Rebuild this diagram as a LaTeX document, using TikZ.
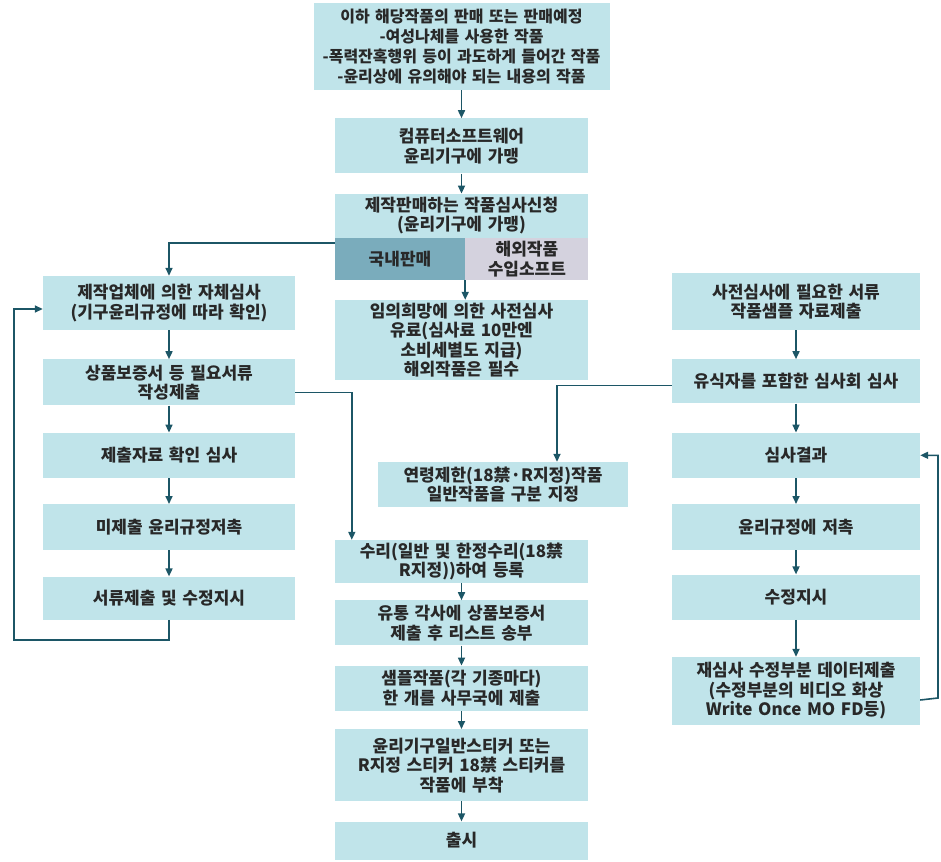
\documentclass[tikz,border=0pt]{standalone}
\usepackage{fontspec}
\setmainfont{Noto Sans CJK KR}
\usetikzlibrary{positioning, calc, arrows.meta}

\definecolor{boxcol}{RGB}{192,228,234}
\definecolor{darkcol}{RGB}{122,172,188}
\definecolor{greycol}{RGB}{212,210,222}
\definecolor{linecol}{RGB}{28,86,102}
\definecolor{textcol}{RGB}{40,40,40}

\begin{document}
\begin{tikzpicture}[x=1pt,y=-1pt,
  every node/.style={rectangle,fill=boxcol,text width=253pt,inner sep=0pt,align=center,
                     text=textcol,font=\fontsize{17}{19.5}\selectfont\bfseries},
  flow/.style={draw=linecol,line width=1.6pt,-{Triangle[length=8pt,width=7pt]}}]
\useasboundingbox (0,0) rectangle (941,861);
% middle column
  \node(top)[text width=296pt,minimum height=87pt,font=\fontsize{16}{20}\selectfont\bfseries] at (461.5,46.5)
    {이하 해당작품의 판매 또는 판매예정\\-여성나체를 사용한 작품\\-폭력잔혹행위 등이 과도하게 들어간 작품\\-윤리상에 유의해야 되는 내용의 작품};
  \node(member)[below=28pt of top,minimum height=55pt]{컴퓨터소프트웨어\\윤리기구에 가맹};
  \node(apply)[below=20pt of member,minimum height=44pt]{제작판매하는 작품심사신청\\(윤리기구에 가맹)};
  \node(domestic)[below right=0pt and 0pt of apply.south west,text width=130pt,minimum height=42pt,fill=darkcol]{국내판매};
  \node(foreign)[right=0pt of domestic,text width=123pt,minimum height=42pt,fill=greycol]{해외작품\\수입소프트};
  \node(prereview)[minimum height=80pt] at (461.5,340){임의희망에 의한 사전심사\\유료(심사료 10만엔\\소비세별도 지급)\\해외작품은 필수};
%
  \node(agelimit)[text width=250pt,minimum height=45pt] at (503,484.5){연령제한(18禁·R지정)작품\\일반작품을 구분 지정};
  \node(accept)[minimum height=43pt] at (461.5,561.5){수리(일반 및 한정수리(18禁\\R지정))하여 등록};
  \node(distrib)[below=17pt of accept,minimum height=45pt]{유통 각사에 상품보증서\\제출 후 리스트 송부};
  \node(sample)[below=20pt of distrib,minimum height=45pt]{샘플작품(각 기종마다)\\한 개를 사무국에 제출};
  \node(sticker)[below=18pt of sample,minimum height=72pt]{윤리기구일반스티커 또는\\R지정 스티커 18禁 스티커를\\작품에 부착};
  \node(release)[below=20pt of sticker,minimum height=38pt]{출시};
% left column
  \node(selfchk)[text width=252pt,minimum height=54pt] at (169,303){제작업체에 의한 자체심사\\(기구윤리규정에 따라 확인)};
  \node(guarantee)[text width=252pt,below=29pt of selfchk,minimum height=46pt]{상품보증서 등 필요서류\\작성제출};
  \node(datachk)[text width=252pt,below=27pt of guarantee,minimum height=45pt]{제출자료 확인 심사};
  \node(violate)[text width=252pt,below=26pt of datachk,minimum height=46pt]{미제출 윤리규정저촉};
  \node(docfix)[text width=252pt,below=26pt of violate,minimum height=43pt]{서류제출 및 수정지시};
% right column
  \node(predoc)[text width=248pt,minimum height=57pt] at (796,301.5){사전심사에 필요한 서류\\작품샘플 자료제출};
  \node(expert)[text width=248pt,below=29pt of predoc,minimum height=44pt]{유식자를 포함한 심사회 심사};
  \node(result)[text width=248pt,below=29pt of expert,minimum height=45pt]{심사결과};
  \node(ruleviol)[text width=248pt,below=26pt of result,minimum height=46pt]{윤리규정에 저촉};
  \node(fixorder)[text width=248pt,below=24pt of ruleviol,minimum height=45pt]{수정지시};
  \node(resubmit)[text width=248pt,below=37pt of fixorder,minimum height=68pt]{재심사 수정부분 데이터제출\\(수정부분의 비디오 화상\\Write Once MO FD등)};
%
  \coordinate(loopcorner) at (14,640);
  \coordinate(rightcorner) at (938,698);
%
\draw[flow](top)--(member);
\draw[flow](member)--(apply);
\draw[flow]([yshift=-5pt]domestic.north west)-|(selfchk.north);
\draw[flow](domestic.south east)--(domestic.south east |- prereview.north);
%
\draw[flow](selfchk)--(guarantee);
\draw[flow](guarantee)--(datachk);
\draw[flow](datachk)--(violate);
\draw[flow](violate)--(docfix);
\draw[flow](docfix.south)|-(loopcorner)|-([yshift=-6pt]selfchk.west);
\draw[flow]([yshift=-10pt]guarantee.east)-|([xshift=17pt]accept.north west);
%
\draw[flow](predoc)--(expert);
\draw[flow](expert)--(result);
\draw[flow](result)--(ruleviol);
\draw[flow](ruleviol)--(fixorder);
\draw[flow](fixorder)--(resubmit);
\draw[flow]([yshift=-4pt]expert.west)-|([xshift=54pt]agelimit.north);
\draw[flow]([yshift=-9pt]resubmit.east)--(rightcorner)|-(result.east);
%
\draw[flow](accept)--(distrib);
\draw[flow](distrib)--(sample);
\draw[flow](sample)--(sticker);
\draw[flow](sticker)--(release);
\end{tikzpicture}
\end{document}
